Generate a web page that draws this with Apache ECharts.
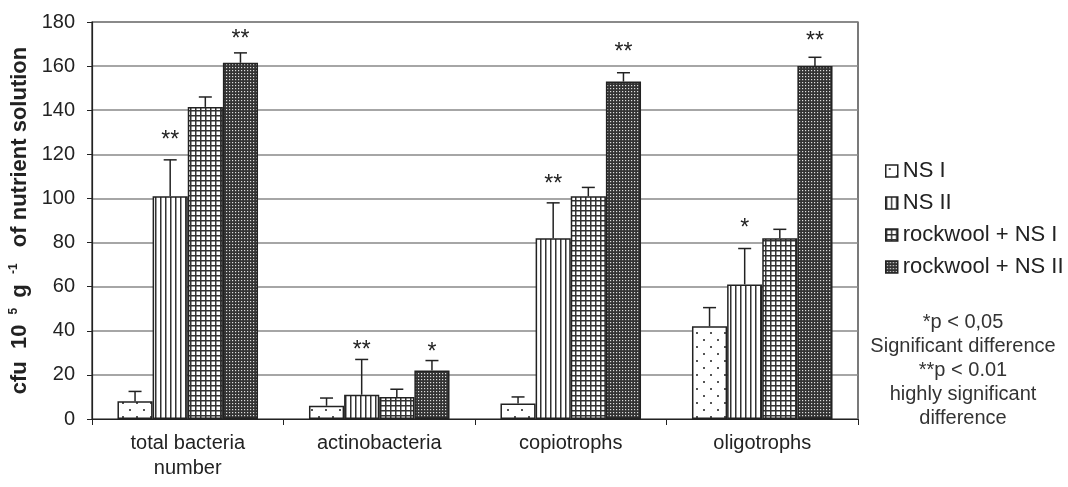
<!DOCTYPE html>
<html>
<head>
<meta charset="utf-8">
<script src="https://cdn.jsdelivr.net/npm/echarts@6/dist/echarts.min.js"></script>
<style>
  html, body { margin: 0; padding: 0; background: #fff; }
  #chart { width: 1068px; height: 487px; }
</style>
</head>
<body>
<div id="chart"></div>
<script>
// data
const categories = ["total bacteria\nnumber", "actinobacteria", "copiotrophs", "oligotrophs"];
const seriesNames = ["NS I", "NS II", "rockwool + NS I", "rockwool + NS II"];
const nsI = [8, 6, 7, 42];
const nsIErr = [4.5, 3.5, 3, 8.5];
const nsII = [101, 11, 82, 61];
const nsIIErr = [16.5, 16, 16, 16.3];
const rwI = [141.5, 10, 101, 82];
const rwIErr = [4.5, 3.5, 4, 4];
const rwII = [161.5, 22, 153, 160];
const rwIIErr = [4.5, 4.5, 4, 4];
// significance marks (over NS II and rockwool + NS II) and their level
const nsIIStars = ["**", "**", "**", "*"];
const nsIIStarAt = [129, 33.5, 109, 89];
const rwIIStars = ["**", "*", "**", "**"];
const rwIIStarAt = [174.5, 32.6, 168.7, 173.6];
const noteLines = ["*p < 0,05", "Significant difference", "**p < 0.01", "highly significant", "difference"];

const FONT = "'Liberation Sans', Arial, sans-serif";

// hatch patterns like the original print
const makePattern = (kind) => {
  const c = document.createElement("canvas");
  const ctx = c.getContext("2d");
  if (kind === "dots") {
    c.width = 14; c.height = 14;
    ctx.fillStyle = "#fff"; ctx.fillRect(0, 0, 14, 14);
    ctx.fillStyle = "#555";
    ctx.fillRect(3, 3, 2, 2);
    ctx.fillRect(10, 10, 2, 2);
  } else if (kind === "vlines") {
    c.width = 5; c.height = 5;
    ctx.fillStyle = "#fff"; ctx.fillRect(0, 0, 5, 5);
    ctx.fillStyle = "#333"; ctx.fillRect(0, 0, 1.5, 5);
  } else if (kind === "grid") {
    c.width = 5; c.height = 5;
    ctx.fillStyle = "#fff"; ctx.fillRect(0, 0, 5, 5);
    ctx.fillStyle = "#333";
    ctx.fillRect(0, 0, 1.5, 5);
    ctx.fillRect(0, 0, 5, 1.5);
  } else {
    c.width = 3; c.height = 3;
    ctx.fillStyle = "#333"; ctx.fillRect(0, 0, 3, 3);
    ctx.fillStyle = "#ddd"; ctx.fillRect(1, 1, 1.2, 1.2);
  }
  return { image: c, repeat: "repeat" };
};
const patterns = [makePattern("dots"), makePattern("vlines"), makePattern("grid"), makePattern("dense")];

const values = [nsI, nsII, rwI, rwII];
const errors = [nsIErr, nsIIErr, rwIErr, rwIIErr];
const catGap = 0.266;

const barSeries = seriesNames.map((name, i) => ({
  name: name,
  type: "bar",
  barGap: "0%",
  barCategoryGap: catGap * 100 + "%",
  itemStyle: { color: patterns[i], borderColor: "#222", borderWidth: 1.5 },
  data: values[i],
}));

// error bars (upper side only, with cap) + stars
const errData = [];
values.forEach((vals, s) => {
  vals.forEach((v, c) => {
    let star = "", starAt = 0;
    if (s === 1) { star = nsIIStars[c]; starAt = nsIIStarAt[c]; }
    if (s === 3) { star = rwIIStars[c]; starAt = rwIIStarAt[c]; }
    errData.push([c, v, v + errors[s][c], s, star, starAt]);
  });
});

const errSeries = {
  type: "custom",
  silent: true,
  z: 5,
  data: errData,
  renderItem: (params, api) => {
    const c = api.value(0);
    const s = api.value(3);
    const catW = api.size([1, 0])[0];
    const barW = (catW * (1 - catGap)) / 4;
    const base = api.coord([c, api.value(1)]);
    const top = api.coord([c, api.value(2)]);
    const x = base[0] + (s - 1.5) * barW;
    const children = [
      { type: "line", shape: { x1: x, y1: base[1], x2: x, y2: top[1] }, style: { stroke: "#222", lineWidth: 1.5 } },
      { type: "line", shape: { x1: x - 6.5, y1: top[1], x2: x + 6.5, y2: top[1] }, style: { stroke: "#222", lineWidth: 1.5 } },
    ];
    const star = api.value(4);
    if (star && star !== "-") {
      const p = api.coord([c, api.value(5)]);
      children.push({
        type: "text",
        style: {
          text: star, x: x, y: p[1] + 6,
          align: "center", verticalAlign: "middle",
          font: "23px " + FONT, fill: "#222",
        },
      });
    }
    return { type: "group", children: children };
  },
};

const chart = echarts.init(document.getElementById("chart"));
chart.setOption({
  animation: false,
  textStyle: { fontFamily: FONT },
  grid: {
    left: 92, right: 210, top: 22, bottom: 68,
    outerBoundsMode: "none",
    show: true, borderColor: "#222", borderWidth: 1.2,
  },
  legend: {
    orient: "vertical",
    left: 885,
    top: 160,
    padding: 0,
    itemWidth: 12,
    itemHeight: 12,
    itemGap: 10,
    icon: "rect",
    data: seriesNames,
    itemStyle: { borderColor: "#222", borderWidth: 1.5 },
    textStyle: { fontSize: 22, color: "#222", lineHeight: 22 },
  },
  graphic: [
    {
      type: "text",
      x: 963,
      y: 310,
      style: {
        text: noteLines.join("\n"),
        align: "center",
        verticalAlign: "top",
        font: "20px " + FONT,
        lineHeight: 24,
        fill: "#333",
      },
    },
  ],
  xAxis: {
    type: "category",
    data: categories,
    axisLine: { lineStyle: { color: "#222", width: 1.2 } },
    axisTick: { show: true, length: 6, lineStyle: { color: "#222" } },
    axisLabel: { fontSize: 20, color: "#222", margin: 12, lineHeight: 25 },
  },
  yAxis: {
    type: "value",
    min: 0,
    max: 180,
    interval: 20,
    name: "{b|cfu  10 }{s|5}{b| g }{s|-1}{b|  of nutrient solution}",
    nameLocation: "middle",
    nameGap: 58,
    nameTextStyle: {
      rich: {
        b: { fontSize: 22, fontWeight: "bold", color: "#222", lineHeight: 24 },
        s: { fontSize: 12, fontWeight: "bold", color: "#222", verticalAlign: "top", lineHeight: 13, padding: [0, 4, 0, 4] },
      },
    },
    axisLine: { show: true, lineStyle: { color: "#222", width: 1.2 } },
    axisTick: { show: true, length: 5, lineStyle: { color: "#222" } },
    axisLabel: { fontSize: 20, color: "#222", margin: 17 },
    splitLine: { lineStyle: { color: "#888", width: 1.5 } },
  },
  series: barSeries.concat([errSeries]),
});
</script>
</body>
</html>
